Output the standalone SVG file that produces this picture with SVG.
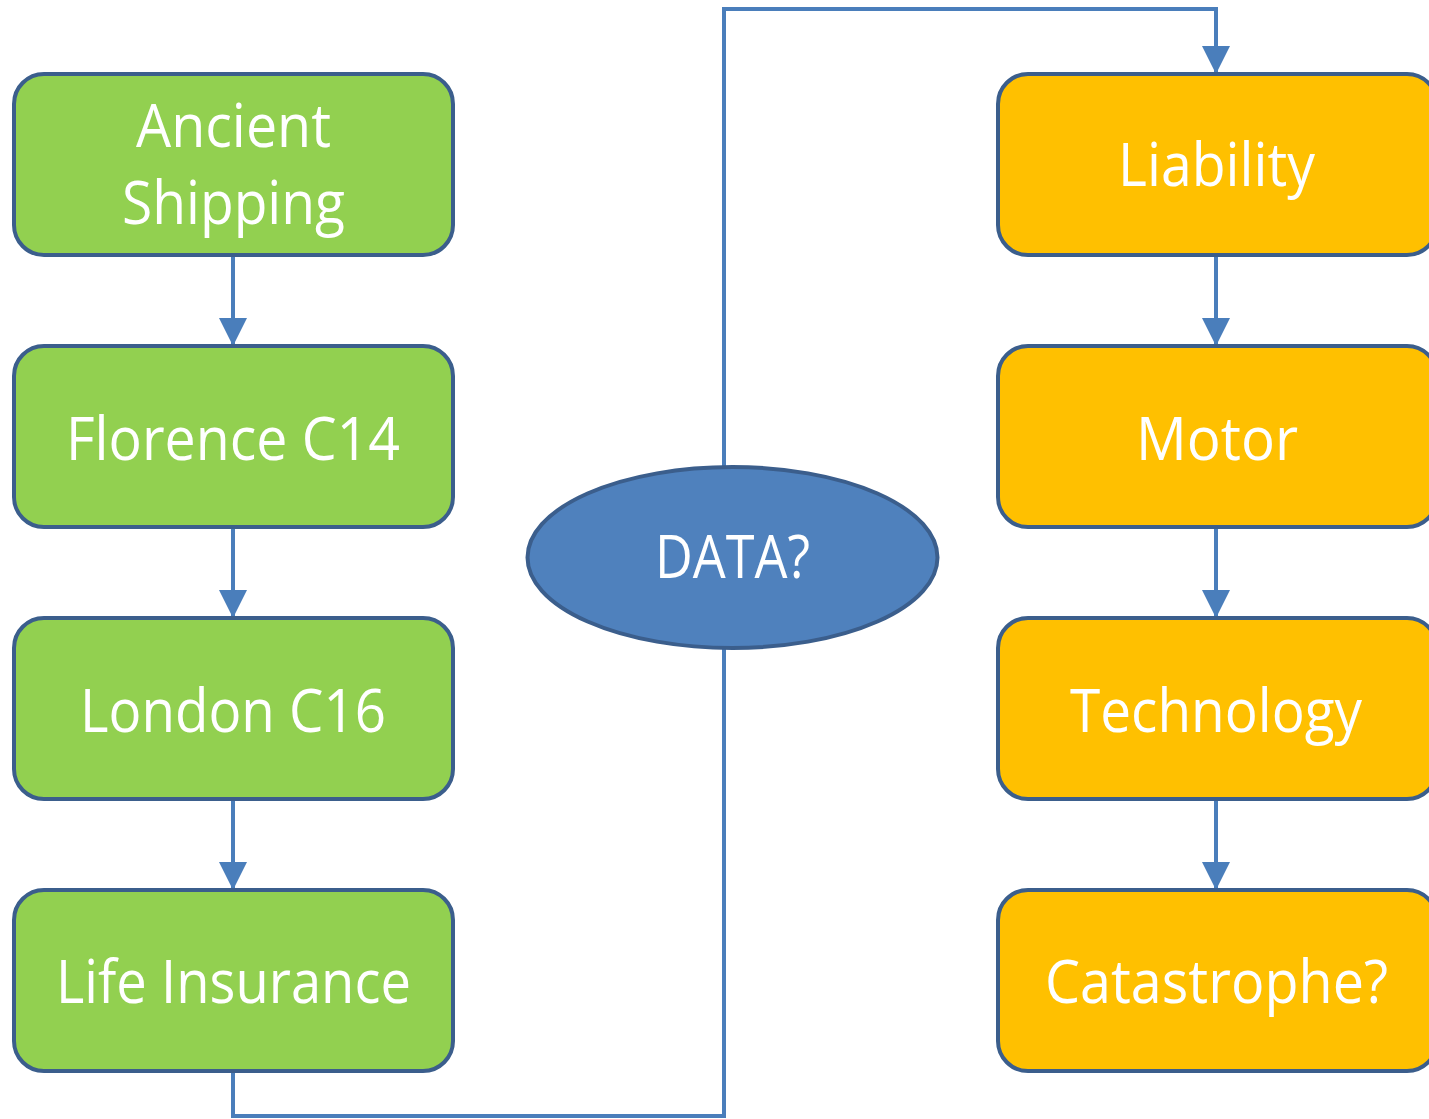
<svg xmlns="http://www.w3.org/2000/svg" width="1429" height="1119" viewBox="0 0 1429 1119">
<defs>
<style>
.g{fill:#92d050;stroke:#3b5e8c;stroke-width:4}
.o{fill:#ffc000;stroke:#3b5e8c;stroke-width:4}
.e{fill:#4f81bd;stroke:#3b5e8c;stroke-width:4}
.t{fill:#ffffff;font-family:"Open Sans","Noto Sans",sans-serif;font-size:60px;text-anchor:middle}
.c{fill:none;stroke:#4a7ebb;stroke-width:4}
</style>
<marker id="ah" markerWidth="7" markerHeight="7" refX="6.5" refY="3.5" orient="auto" markerUnits="strokeWidth">
<path d="M0,0 L7,3.5 L0,7 Z" fill="#4a7ebb"/>
</marker>
</defs>
<rect width="1429" height="1119" fill="#ffffff"/>
<g id="connectors">
<path class="c" d="M233,256 L233,344" marker-end="url(#ah)"/>
<path class="c" d="M233,528 L233,616" marker-end="url(#ah)"/>
<path class="c" d="M233,800 L233,888" marker-end="url(#ah)"/>
<path class="c" d="M1216,256 L1216,344" marker-end="url(#ah)"/>
<path class="c" d="M1216,528 L1216,616" marker-end="url(#ah)"/>
<path class="c" d="M1216,800 L1216,888" marker-end="url(#ah)"/>
<path class="c" d="M233,1072 L233,1116 L724,1116 L724,649"/>
<path class="c" d="M724,466 L724,9 L1216,9 L1216,72" marker-end="url(#ah)"/>
</g>
<g id="n1"><rect class="g" x="14" y="74" width="439" height="181" rx="30"/>
<text class="t" x="233.5" y="147" textLength="195" lengthAdjust="spacingAndGlyphs">Ancient</text>
<text class="t" x="233.5" y="224" textLength="223" lengthAdjust="spacingAndGlyphs">Shipping</text></g>
<g id="n2"><rect class="g" x="14" y="346" width="439" height="181" rx="30"/>
<text class="t" x="233" y="460" textLength="334" lengthAdjust="spacingAndGlyphs">Florence C14</text></g>
<g id="n3"><rect class="g" x="14" y="618" width="439" height="181" rx="30"/>
<text class="t" x="233" y="732" textLength="306" lengthAdjust="spacingAndGlyphs">London C16</text></g>
<g id="n4"><rect class="g" x="14" y="890" width="439" height="181" rx="30"/>
<text class="t" x="233.5" y="1003" textLength="355" lengthAdjust="spacingAndGlyphs">Life Insurance</text></g>
<g id="n5"><rect class="o" x="998" y="74" width="439" height="181" rx="30"/>
<text class="t" x="1216.5" y="186" textLength="197" lengthAdjust="spacingAndGlyphs">Liability</text></g>
<g id="n6"><rect class="o" x="998" y="346" width="439" height="181" rx="30"/>
<text class="t" x="1217" y="460" textLength="162" lengthAdjust="spacingAndGlyphs">Motor</text></g>
<g id="n7"><rect class="o" x="998" y="618" width="439" height="181" rx="30"/>
<text class="t" x="1216" y="732" textLength="292" lengthAdjust="spacingAndGlyphs">Technology</text></g>
<g id="n8"><rect class="o" x="998" y="890" width="439" height="181" rx="30"/>
<text class="t" x="1216.5" y="1003" textLength="343" lengthAdjust="spacingAndGlyphs">Catastrophe?</text></g>
<g id="n9"><ellipse class="e" cx="732.5" cy="557.5" rx="205" ry="90.5"/>
<text class="t" x="732.5" y="578" textLength="155" lengthAdjust="spacingAndGlyphs">DATA?</text></g>
</svg>
